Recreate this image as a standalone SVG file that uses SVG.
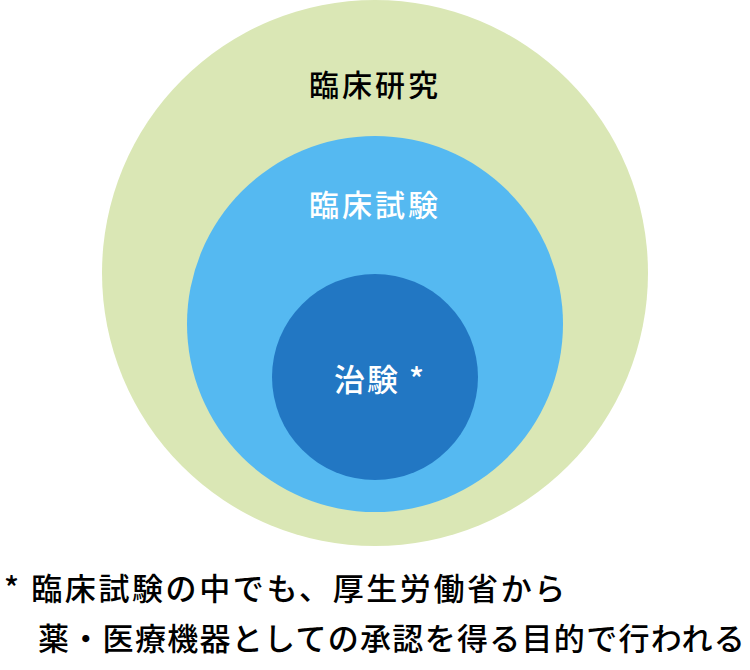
<svg xmlns="http://www.w3.org/2000/svg" width="750" height="670" viewBox="0 0 750 670">
<style>
text{font-family:"Noto Sans CJK JP","Noto Sans CJK SC",sans-serif;font-weight:500;}
.lbl{font-size:30px;letter-spacing:3px;text-anchor:middle;}
.note{font-size:31px;fill:#000;}
</style>
<rect width="750" height="670" fill="#fff"/>
<g id="clinical-research">
<circle cx="375" cy="273" r="273" fill="#DAE7B5"/>
<text class="lbl" x="375" y="96" fill="#000">臨床研究</text>
</g>
<g id="clinical-trial">
<circle cx="375" cy="324" r="188" fill="#55B9F1"/>
<text class="lbl" x="375" y="216" fill="#fff">臨床試験</text>
</g>
<g id="chiken">
<circle cx="375" cy="377" r="103" fill="#2277C3"/>
<text x="334" y="391" fill="#fff" style="font-size:31px;letter-spacing:2px">治験 *</text>
</g>
<g id="connectors"></g>
<g id="footnote">
<text class="note" x="4" y="600" style="letter-spacing:2.6px">* 臨床試験の中でも、厚生労働省から</text>
<text class="note" x="38" y="650" style="letter-spacing:1.3px">薬・医療機器としての承認を得る目的で行われる</text>
</g>
</svg>
